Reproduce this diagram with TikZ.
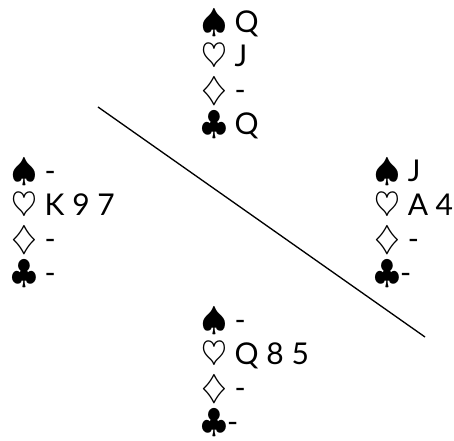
\documentclass[tikz,border=0pt]{standalone}
\usepackage{fontspec}
\setmainfont{Lato}
\usepackage{tikz}

\newcommand{\bsuit}[1]{{\fontsize{23}{28}\selectfont$#1$}}

\tikzset{
  cardrow/.style={anchor=base west, inner sep=0pt, font=\fontsize{22.5}{28}\selectfont},
}

\begin{document}
\begin{tikzpicture}[x=0.75pt, y=-0.75pt]

  \useasboundingbox (0,0) rectangle (454,441);

  % --- North hand ---
  \node[cardrow] (nS) at (201,33)  {\bsuit{\spadesuit} Q};
  \node[cardrow] (nH) at (201,67)  {\bsuit{\heartsuit} J};
  \node[cardrow] (nD) at (201,101) {\bsuit{\diamondsuit} -};
  \node[cardrow] (nC) at (201,135) {\bsuit{\clubsuit} Q};

  % --- West hand ---
  \node[cardrow] (wS) at (11,182) {\bsuit{\spadesuit} -};
  \node[cardrow] (wH) at (11,216) {\bsuit{\heartsuit} K 9 7};
  \node[cardrow] (wD) at (11,250) {\bsuit{\diamondsuit} -};
  \node[cardrow] (wC) at (11,284) {\bsuit{\clubsuit} -};

  % --- East hand ---
  \node[cardrow] (eS) at (374,182) {\bsuit{\spadesuit} J};
  \node[cardrow] (eH) at (374,216) {\bsuit{\heartsuit} A 4};
  \node[cardrow] (eD) at (374,250) {\bsuit{\diamondsuit} -};
  \node[cardrow] (eC) at (374,284) {\bsuit{\clubsuit}-};

  % --- South hand ---
  \node[cardrow] (sS) at (201,331) {\bsuit{\spadesuit} -};
  \node[cardrow] (sH) at (201,365) {\bsuit{\heartsuit} Q 8 5};
  \node[cardrow] (sD) at (201,399) {\bsuit{\diamondsuit} -};
  \node[cardrow] (sC) at (201,433) {\bsuit{\clubsuit}-};

  % --- Diagonal line ---
  \coordinate (lineA) at (98,107);
  \coordinate (lineB) at (425,337);
  \draw[line width=1pt] (lineA) -- (lineB);

\end{tikzpicture}
\end{document}
